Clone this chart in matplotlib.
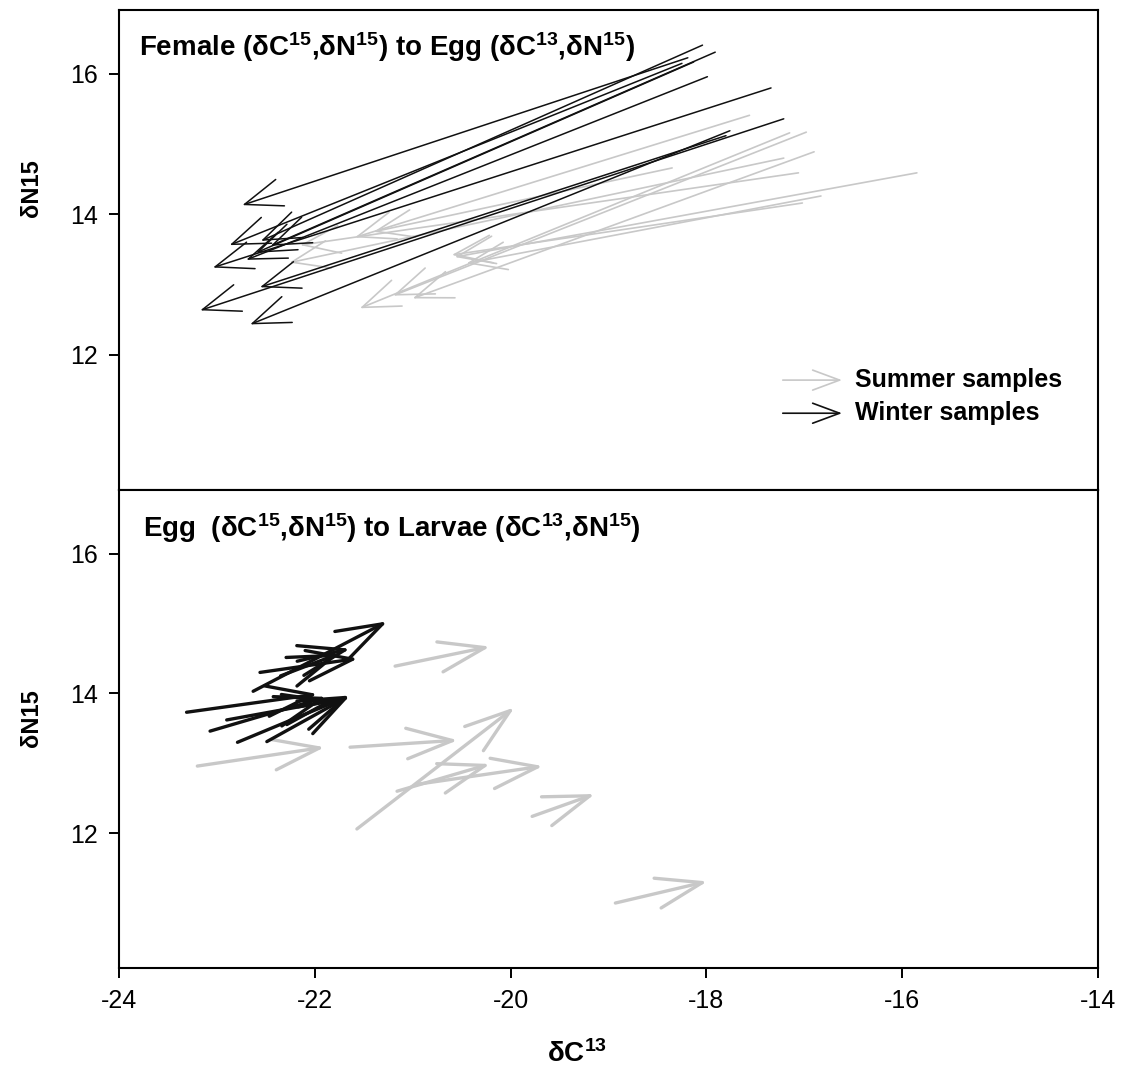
import numpy as np
import matplotlib.pyplot as plt
from matplotlib.patches import FancyArrowPatch

plt.rcParams['font.family'] = ['Liberation Sans', 'DejaVu Sans']
plt.rcParams['mathtext.fontset'] = 'custom'
plt.rcParams['mathtext.rm'] = 'Liberation Sans:bold'
plt.rcParams['mathtext.it'] = 'Liberation Sans:bold'
plt.rcParams['mathtext.bf'] = 'Liberation Sans:bold'
plt.rcParams['axes.unicode_minus'] = False

# Female -> Egg, summer samples (tail = female, head = egg)
fe_summer_c0 = [-17.56, -17.15, -16.98, -16.90, -17.21, -17.06, -15.85, -16.83, -17.02, -18.35]
fe_summer_n0 = [15.41, 15.16, 15.17, 14.89, 14.80, 14.59, 14.59, 14.26, 14.16, 14.66]
fe_summer_c1 = [-21.59, -21.54, -21.20, -21.00, -22.26, -22.15, -20.57, -20.45, -20.60, -21.40]
fe_summer_n1 = [13.67, 12.66, 12.84, 12.80, 13.31, 13.56, 13.39, 13.30, 13.42, 13.75]

# Female -> Egg, winter samples
fe_winter_c0 = [-18.19, -18.04, -17.91, -18.13, -17.99, -17.34, -17.21, -17.76, -17.80, -18.25]
fe_winter_n0 = [16.23, 16.41, 16.31, 16.17, 15.96, 15.80, 15.36, 15.19, 15.12, 16.15]
fe_winter_c1 = [-22.74, -22.55, -22.45, -22.60, -22.70, -23.04, -23.17, -22.66, -22.56, -22.87]
fe_winter_n1 = [14.13, 13.62, 13.55, 13.45, 13.35, 13.24, 12.63, 12.43, 12.96, 13.56]

# Egg -> Larvae, summer samples (tail = egg, head = larvae)
el_summer_c0 = [-21.18, -21.64, -21.57, -21.16, -20.95, -19.78, -18.93, -23.20]
el_summer_n0 = [14.39, 13.23, 12.06, 12.60, 12.70, 12.24, 11.00, 12.96]
el_summer_c1 = [-20.21, -20.54, -19.96, -20.21, -19.67, -19.14, -17.99, -21.90]
el_summer_n1 = [14.67, 13.33, 13.80, 12.99, 12.96, 12.56, 11.31, 13.23]

# Egg -> Larvae, winter samples
el_winter_c0 = [-22.63, -22.56, -22.18, -22.35, -23.31, -23.07, -22.79, -22.49, -22.90]
el_winter_n0 = [14.03, 14.30, 14.46, 14.25, 13.73, 13.46, 13.30, 13.31, 13.62]
el_winter_c1 = [-21.26, -21.56, -21.64, -21.75, -21.97, -21.88, -21.64, -21.64, -21.80]
el_winter_n1 = [15.03, 14.50, 14.64, 14.57, 13.99, 13.95, 13.97, 13.97, 13.90]

x_ticks = [-24, -22, -20, -18, -16, -14]
y_ticks = [12, 14, 16]

GRAY = '#c8c8c8'
BLACK = '#111111'


def draw_arrows(ax, c0, n0, c1, n1, color, lw, hl, hw):
    for a, b, c, d in zip(c0, n0, c1, n1):
        ax.add_patch(FancyArrowPatch((a, b), (c, d),
                                     arrowstyle='->,head_length=%g,head_width=%g' % (hl, hw),
                                     mutation_scale=20, color=color, lw=lw,
                                     shrinkA=0, shrinkB=0))


def style_axes(ax, label_y):
    ax.set_xlim(-24, -14)
    ax.set_ylim(10.07, 16.91)
    ax.set_xticks(x_ticks)
    ax.set_yticks(y_ticks)
    ax.tick_params(direction='out', length=7.2, width=1.4, labelsize=18, pad=8)
    for s in ax.spines.values():
        s.set_linewidth(1.5)
    ax.set_ylabel('δN15', fontsize=17, fontweight='bold')
    ax.yaxis.set_label_coords(-0.078, label_y)


fig = plt.figure(figsize=(11.25, 10.81), dpi=100)
ax1 = fig.add_axes([0.1058, 0.5467, 0.8702, 0.444])
ax2 = fig.add_axes([0.1058, 0.1045, 0.8702, 0.4422])

# top panel
style_axes(ax1, 0.629)
ax1.tick_params(axis='x', labelbottom=False)
draw_arrows(ax1, fe_summer_c0, fe_summer_n0, fe_summer_c1, fe_summer_n1, GRAY, 1.2, 1.35, 0.5)
draw_arrows(ax1, fe_winter_c0, fe_winter_n0, fe_winter_c1, fe_winter_n1, BLACK, 1.1, 1.35, 0.5)
ax1.text(0.0204, 0.904, r'Female (δC$^{15}$,δN$^{15}$) to Egg (δC$^{13}$,δN$^{15}$)',
         transform=ax1.transAxes, fontsize=20, fontweight='bold', va='baseline')

# legend drawn as arrows + text
ax1.annotate('', xy=(0.7385, 0.229), xytext=(0.678, 0.229), xycoords='axes fraction',
             arrowprops=dict(arrowstyle='->,head_length=0.97,head_width=0.36',
                             mutation_scale=20, color=GRAY, lw=1.2, shrinkA=0, shrinkB=0))
ax1.annotate('', xy=(0.7385, 0.160), xytext=(0.678, 0.160), xycoords='axes fraction',
             arrowprops=dict(arrowstyle='->,head_length=0.97,head_width=0.36',
                             mutation_scale=20, color=BLACK, lw=1.2, shrinkA=0, shrinkB=0))
ax1.text(0.752, 0.229, 'Summer samples', transform=ax1.transAxes, fontsize=18,
         fontweight='bold', va='center')
ax1.text(0.752, 0.160, 'Winter samples', transform=ax1.transAxes, fontsize=18,
         fontweight='bold', va='center')

# bottom panel
style_axes(ax2, 0.523)
draw_arrows(ax2, el_summer_c0, el_summer_n0, el_summer_c1, el_summer_n1, GRAY, 2.4, 1.65, 0.55)
draw_arrows(ax2, el_winter_c0, el_winter_n0, el_winter_c1, el_winter_n1, BLACK, 2.4, 1.65, 0.55)
ax2.text(0.0245, 0.9017, r'Egg  (δC$^{15}$,δN$^{15}$) to Larvae (δC$^{13}$,δN$^{15}$)',
         transform=ax2.transAxes, fontsize=20, fontweight='bold', va='baseline')
ax2.set_xlabel(r'δC$^{13}$', fontsize=20, fontweight='bold')
ax2.xaxis.set_label_coords(0.468, -0.15)

fig.savefig('out.png', dpi=100)
